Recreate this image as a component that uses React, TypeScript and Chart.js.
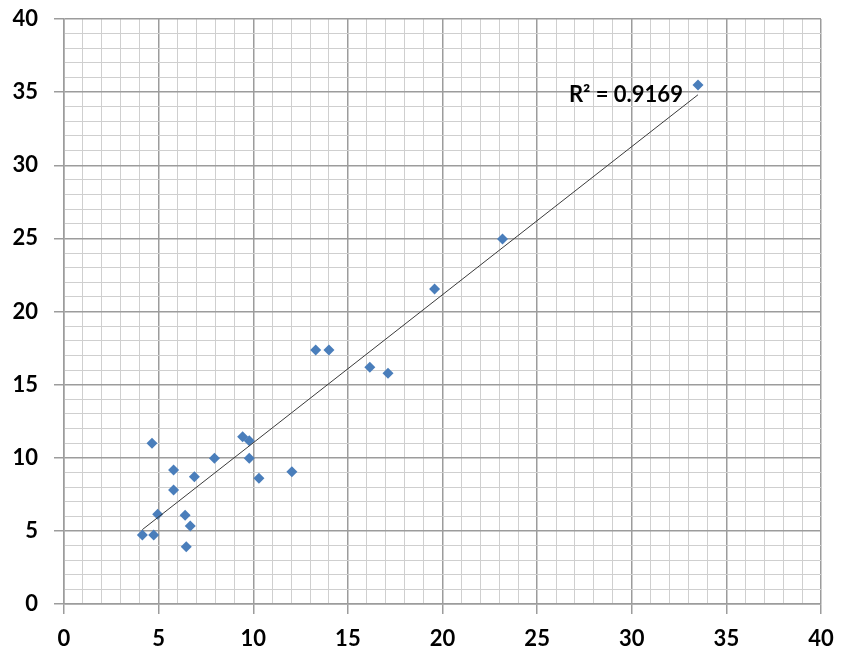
import React, { useEffect, useRef } from "react";
import { Chart, registerables } from "chart.js";

Chart.register(...registerables);

const xValues = [4.14, 4.74, 4.65, 4.95, 5.79, 5.79, 6.89, 6.4, 6.67, 6.46, 7.95, 9.44, 9.79, 9.79, 10.3, 12.04, 13.3, 14.0, 16.16, 17.12, 19.58, 23.17, 33.5];
const yValues = [4.72, 4.72, 10.99, 6.13, 9.16, 7.79, 8.7, 6.06, 5.33, 3.92, 9.96, 11.44, 11.17, 9.96, 8.6, 9.05, 17.37, 17.37, 16.18, 15.77, 21.54, 24.96, 35.49];
const axisMin = 0;
const axisMax = 40;
const majorStep = 5;
const r2Label = "R² = 0.9169";
const r2LabelPos = { x: 26.68, y: 34.82 };

const FONT = "Lato, 'Liberation Sans', sans-serif";
const MAJOR = "#9c9c9c";
const MINOR = "#cfcfcf";

function regression(xs: number[], ys: number[]) {
  const n = xs.length;
  const mx = xs.reduce((a, b) => a + b, 0) / n;
  const my = ys.reduce((a, b) => a + b, 0) / n;
  let sxy = 0, sxx = 0;
  for (let i = 0; i < n; i++) {
    sxy += (xs[i] - mx) * (ys[i] - my);
    sxx += (xs[i] - mx) ** 2;
  }
  const m = sxy / sxx;
  return { m, b: my - m * mx };
}

export default function App() {
  const ref = useRef<HTMLCanvasElement | null>(null);
  useEffect(() => {
    document.body.style.margin = "0";
    const { m, b } = regression(xValues, yValues);
    const xMinD = Math.min(...xValues);
    const xMaxD = Math.max(...xValues);
    const trend = [
      { x: xMinD, y: m * xMinD + b },
      { x: xMaxD, y: m * xMaxD + b },
    ];
    const labelPlugin = {
      id: "r2label",
      afterDatasetsDraw(chart: any) {
        const { ctx, scales } = chart;
        ctx.save();
        ctx.font = `bold 22px ${FONT}`;
        ctx.fillStyle = "#000";
        ctx.textAlign = "left";
        ctx.textBaseline = "middle";
        ctx.fillText(r2Label, scales.x.getPixelForValue(r2LabelPos.x), scales.y.getPixelForValue(r2LabelPos.y));
        ctx.restore();
      },
    };
    const gridColor = (c: any) => (c.tick && c.tick.value % majorStep === 0 ? MAJOR : MINOR);
    const tickColor = (c: any) => (c.tick && c.tick.value % majorStep === 0 ? MAJOR : "rgba(0,0,0,0)");
    const gridWidth = (c: any) => (c.tick && c.tick.value % majorStep === 0 ? 1.5 : 1);
    const tickCb = (v: any) => (Number(v) % majorStep === 0 ? String(v) : "");
    const chart = new Chart(ref.current!, {
      type: "scatter",
      data: {
        datasets: [
          {
            type: "line",
            data: trend,
            borderColor: "#3a3a3a",
            borderWidth: 1,
            pointRadius: 0,
            fill: false,
            order: 0,
          } as any,
          {
            data: xValues.map((x, i) => ({ x, y: yValues[i] })),
            pointStyle: "rectRot",
            pointRadius: 5.5,
            backgroundColor: "#4a7ebb",
            borderColor: "#4a7ebb",
            borderWidth: 0,
            order: 1,
          },
        ],
      },
      options: {
        animation: false,
        responsive: false,
        layout: { padding: { top: 19, right: 20, left: 0, bottom: 0 } },
        plugins: { legend: { display: false }, tooltip: { enabled: false } },
        scales: {
          x: {
            type: "linear",
            min: axisMin,
            max: axisMax,
            afterFit: (s: any) => { s.height = 53; s.paddingLeft = 0; s.paddingRight = 0; },
            ticks: { stepSize: 1, autoSkip: false, maxRotation: 0, callback: tickCb, color: "#000", font: { family: FONT, size: 22, weight: "bold" }, padding: 12 },
            grid: { color: gridColor, tickColor, lineWidth: gridWidth, tickLength: 10 },
            border: { color: MAJOR, width: 1.5 },
          },
          y: {
            type: "linear",
            min: axisMin,
            max: axisMax,
            afterFit: (s: any) => { s.width = 64; s.paddingTop = 0; s.paddingBottom = 0; },
            ticks: { stepSize: 1, autoSkip: false, callback: tickCb, color: "#000", font: { family: FONT, size: 22, weight: "bold" }, padding: 16 },
            grid: { color: gridColor, tickColor, lineWidth: gridWidth, tickLength: 10 },
            border: { color: MAJOR, width: 1.5 },
          },
        },
      },
      plugins: [labelPlugin],
    } as any);
    return () => chart.destroy();
  }, []);
  return (
    <div style={{ position: "absolute", left: 0, top: 0, width: 841, height: 657, background: "#fff" }}>
      <canvas ref={ref} width={841} height={657} />
    </div>
  );
}
